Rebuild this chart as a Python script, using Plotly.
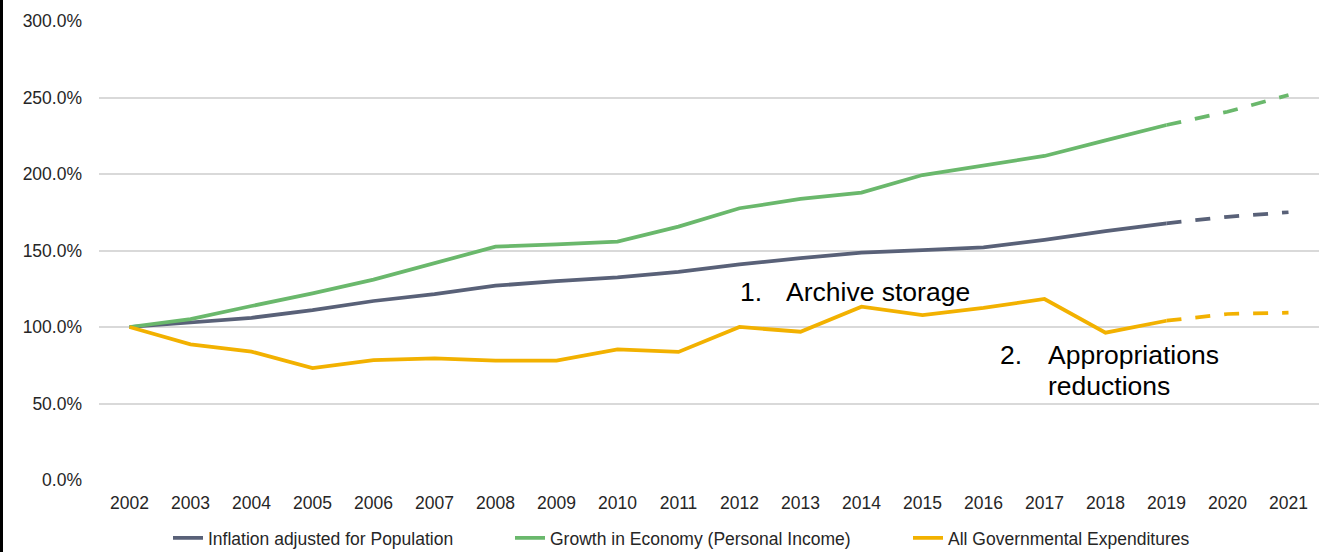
import plotly.graph_objects as go

years = list(range(2002, 2022))
inflation = [100, 103, 106, 111, 117, 121.5, 127, 130, 132.5, 136, 141, 145, 148.6, 150.3, 152, 156.9, 162.7, 167.8, 172, 175]
economy = [100, 105.2, 113.7, 122, 131, 142, 152.5, 154, 155.8, 165.6, 177.6, 183.7, 187.8, 199.3, 205.4, 211.8, 222, 232, 240.7, 251.6]
expend = [100, 88.7, 83.9, 73.2, 78.4, 79.5, 78, 78, 85.4, 83.7, 100, 96.9, 113.3, 107.8, 112.5, 118.3, 96.3, 104.1, 108.5, 109.4]
y_ticks = [0, 50, 100, 150, 200, 250, 300]
y_tick_labels = ["0.0%", "50.0%", "100.0%", "150.0%", "200.0%", "250.0%", "300.0%"]

names = ["Inflation adjusted for Population", "Growth in Economy (Personal Income)", "All Governmental Expenditures"]
colors = ["#596178", "#6ab86c", "#f2b100"]
series = [inflation, economy, expend]
split = years.index(2019)

FONT = "Liberation Sans, Arial, sans-serif"
TXT = "#262626"

fig = go.Figure()
legends = ["legend", "legend2", "legend3"]
for name, col, vals, lg in zip(names, colors, series, legends):
    fig.add_trace(go.Scatter(x=years[:split + 1], y=vals[:split + 1], mode="lines", name=name,
                             line=dict(color=col, width=3.75), legend=lg, hoverinfo="skip"))
    fig.add_trace(go.Scatter(x=years[split:], y=vals[split:], mode="lines", name=name, showlegend=False,
                             line=dict(color=col, width=3.75, dash="15px,14px"), hoverinfo="skip"))

W, H = 1321, 552
ml, mr, mt, mb = 99, 2, 21, 72
pw, ph = W - ml - mr, H - mt - mb

def px_x(p):
    return (p - ml) / pw

def px_y(p):
    return (H - mb - p) / ph

def dx(p):
    return 2002 + (p - 129) / 61

def dy(p):
    return (480 - p) / 1.53

leg_common = dict(orientation="h", font=dict(family=FONT, size=17.5, color=TXT),
                  bgcolor="rgba(0,0,0,0)", xanchor="left", yanchor="middle",
                  itemwidth=30, tracegroupgap=0)
leg_starts = [168, 510, 908]
ann_font = dict(family=FONT, size=26.5, color="black")

fig.update_layout(
    width=W, height=H,
    margin=dict(l=ml, r=mr, t=mt, b=mb, autoexpand=False),
    plot_bgcolor="white", paper_bgcolor="white",
    font=dict(family=FONT, size=17.5, color=TXT),
    legend=dict(leg_common, x=px_x(leg_starts[0]), y=px_y(538)),
    legend2=dict(leg_common, x=px_x(leg_starts[1]), y=px_y(538)),
    legend3=dict(leg_common, x=px_x(leg_starts[2]), y=px_y(538)),
    xaxis=dict(range=[2001.5, 2021.5], tickmode="array", tickvals=years, ticktext=[str(y) for y in years],
               showgrid=False, zeroline=False, showline=False, ticks="", ticklabelstandoff=10,
               tickfont=dict(family=FONT, size=17.5, color=TXT), fixedrange=True),
    yaxis=dict(range=[0, 300], tickmode="array", tickvals=y_ticks, ticktext=y_tick_labels,
               showgrid=True, gridcolor="#d9d9d9", gridwidth=1.5, zeroline=False, showline=False,
               ticks="", ticklabelstandoff=16,
               tickfont=dict(family=FONT, size=17.5, color=TXT), fixedrange=True),
    shapes=[dict(type="line", xref="paper", yref="paper", x0=px_x(1.5), x1=px_x(1.5),
                 y0=px_y(H), y1=px_y(0), line=dict(color="black", width=3))],
    annotations=[
        dict(x=dx(737), y=dy(292), xref="x", yref="y", text="1.", showarrow=False,
             xanchor="left", yanchor="middle", font=ann_font),
        dict(x=dx(783), y=dy(292), xref="x", yref="y", text="Archive storage",
             showarrow=False, xanchor="left", yanchor="middle", font=ann_font),
        dict(x=dx(997), y=dy(355), xref="x", yref="y", text="2.", showarrow=False,
             xanchor="left", yanchor="middle", font=ann_font),
        dict(x=dx(1045), y=dy(355), xref="x", yref="y", text="Appropriations", showarrow=False,
             xanchor="left", yanchor="middle", font=ann_font),
        dict(x=dx(1045), y=dy(386), xref="x", yref="y", text="reductions", showarrow=False,
             xanchor="left", yanchor="middle", font=ann_font),
    ],
)

fig.write_html("out.html", config={"displayModeBar": False},
               post_script="document.body.style.margin='0px';document.body.style.overflow='hidden';")
